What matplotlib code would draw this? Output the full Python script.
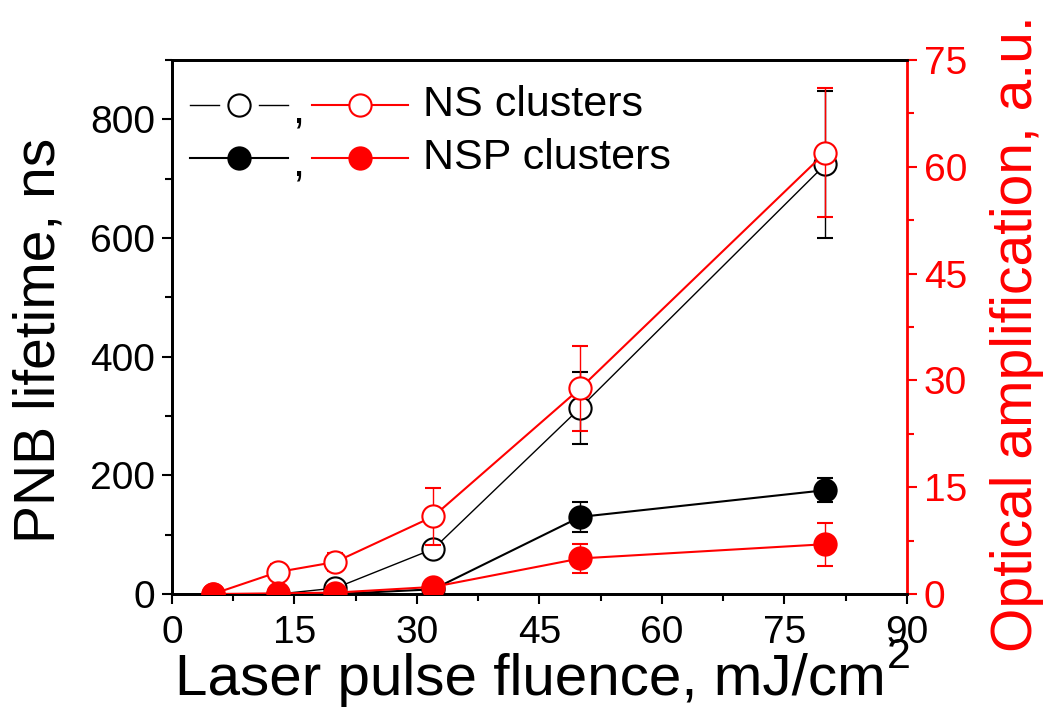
import matplotlib
matplotlib.use("Agg")
import matplotlib.pyplot as plt
from matplotlib.ticker import MultipleLocator

plt.rcParams["font.family"] = ["Liberation Sans", "DejaVu Sans"]

# PNB lifetime (left axis, ns)
ns_x = [13, 20, 32, 50, 80]
ns_life = [0, 10, 76, 314, 724]
ns_life_err = [0, 5, 8, 61, 124]

nsp_x = [20, 32, 50, 80]
nsp_life = [0, 8, 130, 175]
nsp_life_err = [0, 3, 25, 20]

# optical amplification (right axis, a.u.)
amp_x = [5, 13, 20, 32, 50, 80]
ns_amp = [0, 3.1, 4.5, 10.9, 28.9, 62]
ns_amp_err = [0, 1.1, 1.3, 4, 6, 9]
nsp_amp = [0, 0.1, 0.2, 1.0, 5.0, 7.0]
nsp_amp_err = [0, 0, 0, 0.3, 2, 3]

RED = "#ff0000"
ms = 16

fig = plt.figure(figsize=(10.5, 7.17), dpi=100)
ax = fig.add_axes([0.1638, 0.1715, 0.7, 0.7448])
ax2 = ax.twinx()

# black series
ax.errorbar(ns_x, ns_life, yerr=ns_life_err, color="black", lw=1.0, elinewidth=1,
             capsize=6, capthick=1, marker="o", ms=ms, mfc="white", mec="black", mew=1.5, zorder=3)
ax.errorbar(nsp_x, nsp_life, yerr=nsp_life_err, color="black", lw=1.5, elinewidth=1,
             capsize=6, capthick=1, marker="o", ms=ms, mfc="black", mec="black", mew=1.5, zorder=3)

# red series
ax2.errorbar(amp_x, ns_amp, yerr=ns_amp_err, color=RED, lw=1.5, elinewidth=1,
              capsize=6, capthick=1, marker="o", ms=ms, mfc="white", mec=RED, mew=1.5, zorder=3)
ax2.errorbar(amp_x, nsp_amp, yerr=nsp_amp_err, color=RED, lw=1.5, elinewidth=1,
              capsize=6, capthick=1, marker="o", ms=ms, mfc=RED, mec=RED, mew=1.5, zorder=4)

ax.set_xlim(0, 90)
ax.set_ylim(0, 900)
ax2.set_ylim(0, 75)

ax.xaxis.set_major_locator(MultipleLocator(15))
ax.xaxis.set_minor_locator(MultipleLocator(7.5))
ax.yaxis.set_major_locator(MultipleLocator(200))
ax.yaxis.set_minor_locator(MultipleLocator(100))
ax2.yaxis.set_major_locator(MultipleLocator(15))
ax2.yaxis.set_minor_locator(MultipleLocator(7.5))

for a in (ax, ax2):
    for s in a.spines.values():
        s.set_linewidth(2)
ax2.spines["right"].set_color(RED)
ax.spines["right"].set_visible(False)

ax.tick_params(axis="both", which="major", direction="out", length=7, width=1.5,
               labelsize=28, pad=5)
ax.tick_params(axis="both", which="minor", direction="out", length=5, width=1.5)
ax.tick_params(axis="x", which="major", pad=8)
ax2.tick_params(axis="y", which="major", direction="out", length=7, width=1.5,
                labelsize=28, pad=5, colors=RED)
ax2.tick_params(axis="y", which="minor", direction="out", length=5, width=1.5, colors=RED)

ax.set_xlabel("Laser pulse fluence, mJ/cm", fontsize=42)
ax.xaxis.set_label_coords(0.488, -0.1096)
# superscript 2 placed like the original
ax.text(0.972, -0.08, "2", fontsize=31, transform=ax.transAxes, ha="left", va="top")
ax.set_ylabel("PNB lifetime, ns", fontsize=41)
ax.yaxis.set_label_coords(-0.143, 0.474)
ax2.set_ylabel("Optical amplification, a.u.", fontsize=41, color=RED, rotation=90)
ax2.yaxis.set_label_coords(1.113, 0.488)

# hand-made legend (Origin style)
tr = ax.transAxes
rows = [(0.9157, "white", "NS clusters", 1.0), (0.8165, "black", "NSP clusters", 1.5)]
for y, face, label, blw in rows:
    if face == "white":
        ax.plot([0.0245, 0.064], [y, y], color="black", lw=blw, transform=tr, clip_on=False)
        ax.plot([0.1185, 0.158], [y, y], color="black", lw=blw, transform=tr, clip_on=False)
    else:
        ax.plot([0.0245, 0.158], [y, y], color="black", lw=blw, transform=tr, clip_on=False)
    ax.plot([0.0912], [y], marker="o", ms=ms, mfc=face, mec="black", mew=1.5,
            transform=tr, clip_on=False)
    ax.text(0.163, y - 0.012, ",", fontsize=31, ha="left", va="center", transform=tr)
    ax.plot([0.1905, 0.321], [y, y], color=RED, lw=1.5, transform=tr, clip_on=False)
    ax.plot([0.2558], [y], marker="o", ms=ms, mfc=RED if face == "black" else "white",
            mec=RED, mew=1.5, transform=tr, clip_on=False)
    ax.text(0.3415, y, label, fontsize=31, ha="left", va="center", transform=tr)

fig.savefig("out.png", dpi=100)
